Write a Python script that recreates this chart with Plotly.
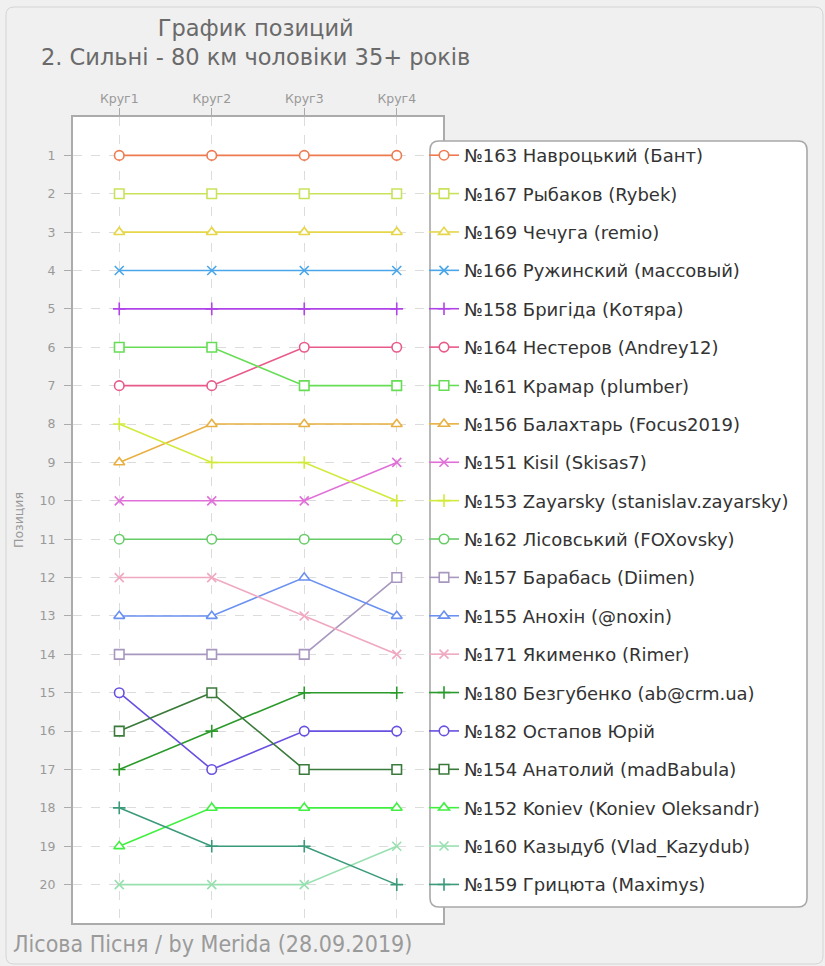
import plotly.graph_objects as go

rounds = ["Круг1", "Круг2", "Круг3", "Круг4"]
y_ticks = list(range(1, 21))

names = [
    "№163 Навроцький (Бант)",
    "№167 Рыбаков (Rybek)",
    "№169 Чечуга (remio)",
    "№166 Ружинский (массовый)",
    "№158 Бригіда (Котяра)",
    "№164 Нестеров (Andrey12)",
    "№161 Крамар (plumber)",
    "№156 Балахтарь (Focus2019)",
    "№151 Kisil (Skisas7)",
    "№153 Zayarsky (stanislav.zayarsky)",
    "№162 Лісовський (FOXovsky)",
    "№157 Барабась (Diimen)",
    "№155 Анохін (@noxin)",
    "№171 Якименко (Rimer)",
    "№180 Безгубенко (ab@crm.ua)",
    "№182 Остапов Юрій",
    "№154 Анатолий (madBabula)",
    "№152 Koniev (Koniev Oleksandr)",
    "№160 Казыдуб (Vlad_Kazydub)",
    "№159 Грицюта (Maximys)",
]

positions = [
    [1, 1, 1, 1],
    [2, 2, 2, 2],
    [3, 3, 3, 3],
    [4, 4, 4, 4],
    [5, 5, 5, 5],
    [7, 7, 6, 6],
    [6, 6, 7, 7],
    [9, 8, 8, 8],
    [10, 10, 10, 9],
    [8, 9, 9, 10],
    [11, 11, 11, 11],
    [14, 14, 14, 12],
    [13, 13, 12, 13],
    [12, 12, 13, 14],
    [17, 16, 15, 15],
    [15, 17, 16, 16],
    [16, 15, 17, 17],
    [19, 18, 18, 18],
    [20, 20, 20, 19],
    [18, 19, 19, 20],
]

colors = [
    "#ee7a50", "#c8e35a", "#e6d64a", "#4aa6ea", "#b044e8",
    "#e85a8a", "#66dd55", "#e8b042", "#e070d8", "#d2ea3c",
    "#66cc66", "#a898c0", "#6a90f0", "#f0a8c0", "#2a9a2a",
    "#6a50e0", "#3a7a3a", "#40f040", "#98e0b0", "#3a9a7a",
]

symbols_cycle = ["circle", "square", "triangle-up", "x-thin-open", "cross-thin-open"]

title_lines = ["График позиций", "2. Сильні - 80 км чоловіки 35+ років"]
footer = "Лісова Пісня / by Merida (28.09.2019)"
y_title = "Позиция"

W, H = 825, 966
L, R, T, B = 73, 443, 117, 923


def px_x(p):
    return (p - L) / (R - L)


def px_y(p):
    return (B - p) / (B - T)


fig = go.Figure()
for i, (name, pos, col) in enumerate(zip(names, positions, colors)):
    sym = symbols_cycle[i % 5]
    thin = "thin" in sym
    marker = dict(
        symbol=sym,
        size=9 if thin else 9.5,
        color=col if thin else "white",
        line=dict(color=col, width=1.6),
    )
    fig.add_trace(go.Scatter(
        x=list(range(len(rounds))), y=pos, name=name, mode="lines+markers",
        line=dict(color=col, width=1.6), marker=marker,
        legendgroup="g%d" % i, showlegend=True,
    ))


def rrect(x0, y0, x1, y1, r):
    X0, X1 = px_x(x0), px_x(x1)
    Y0, Y1 = px_y(y0), px_y(y1)
    rx = r / (R - L)
    ry = r / (B - T)
    return (f"M{X0+rx},{Y0} L{X1-rx},{Y0} Q{X1},{Y0} {X1},{Y0-ry} "
            f"L{X1},{Y1+ry} Q{X1},{Y1} {X1-rx},{Y1} L{X0+rx},{Y1} "
            f"Q{X0},{Y1} {X0},{Y1+ry} L{X0},{Y0-ry} Q{X0},{Y0} {X0+rx},{Y0} Z")


shapes = [
    dict(type="path", xref="paper", yref="paper", path=rrect(6, 7, 823, 964, 8),
         line=dict(color="#d4d4d4", width=1), fillcolor="rgba(0,0,0,0)", layer="below"),
    dict(type="path", xref="paper", yref="paper", path=rrect(430, 141, 807, 907, 9),
         line=dict(color="#a8a8a8", width=1.6), fillcolor="white", layer="above"),
]

axis_common = dict(
    showgrid=True, gridcolor="#dcdcdc", griddash="dash", gridwidth=1,
    showline=True, linecolor="#ababab", linewidth=2, mirror=True,
    ticks="outside", ticklen=7, tickcolor="#ababab", tickwidth=1,
    zeroline=False, tickfont=dict(family="DejaVu Sans", size=12.5, color="#999999"),
)

item_h = 18 * 1.3 + 3
row_h = (B - T) / 21

fig.update_layout(
    width=W, height=H,
    margin=dict(l=L, r=W - R, t=T, b=H - B, autoexpand=False),
    paper_bgcolor="#f0f0f0", plot_bgcolor="white",
    showlegend=True,
    legend=dict(
        x=px_x(424), y=px_y(137), xanchor="left", yanchor="top",
        bgcolor="rgba(0,0,0,0)", borderwidth=0,
        font=dict(family="DejaVu Sans", size=18, color="#333333"),
        tracegroupgap=row_h - item_h, itemwidth=30,
    ),
    xaxis=dict(
        axis_common, side="top", tickmode="array",
        tickvals=list(range(len(rounds))), ticktext=rounds,
        range=[-0.5, 3.5], fixedrange=True,
    ),
    yaxis=dict(
        axis_common, autorange=False, range=[21, 0], tickmode="array",
        tickvals=y_ticks, ticktext=[str(v) for v in y_ticks],
        ticklabelstandoff=6, fixedrange=True,
    ),
    shapes=shapes,
    annotations=[
        dict(text="<br>".join(title_lines),
             xref="paper", yref="paper", x=px_x(255), y=px_y(42.5),
             xanchor="center", yanchor="middle", showarrow=False,
             font=dict(family="DejaVu Sans", size=22.5, color="#6a6a6a")),
        dict(text=y_title, xref="paper", yref="paper", x=px_x(18), y=px_y(520),
             xanchor="center", yanchor="middle", showarrow=False, textangle=-90,
             font=dict(family="DejaVu Sans", size=12.5, color="#999999")),
        dict(text=footer, xref="paper", yref="paper",
             x=px_x(11), y=px_y(944), xanchor="left", yanchor="middle", showarrow=False,
             font=dict(family="DejaVu Sans Condensed, Liberation Sans Narrow, DejaVu Sans",
                       size=23, color="#9a9a9a")),
    ],
)

fig.write_html("out.html", config={"displayModeBar": False},
               post_script="document.body.style.margin='0';document.body.style.overflow='hidden';")
